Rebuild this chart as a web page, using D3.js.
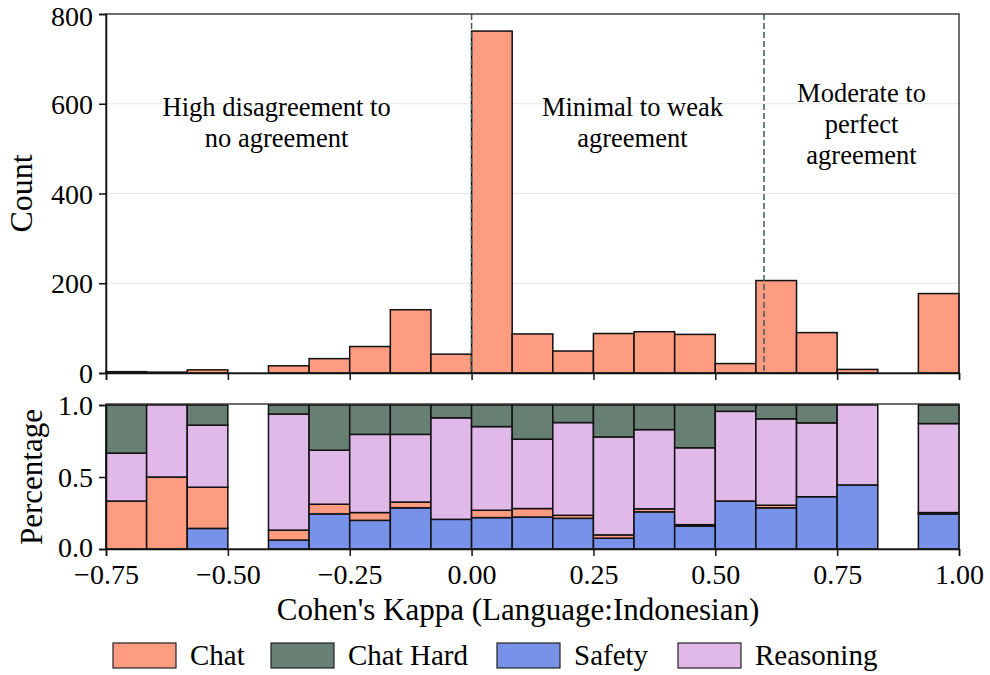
<!DOCTYPE html>
<html>
<head>
<meta charset="utf-8">
<script src="https://cdn.jsdelivr.net/npm/d3@7"></script>
<style>
  body { margin: 0; background: #fff; }
  svg text { font-family: "Liberation Serif", "Times New Roman", serif; }
</style>
</head>
<body>
<svg id="chart" width="990" height="675"></svg>
<script>
// ---- data ----
const binCount = 21;
const xMin = -0.75, xMax = 1.0;
const counts = [3, 2, 7, 0, 16, 32, 59, 141, 42, 762, 87, 49, 88, 92, 86, 21, 206, 90, 8, 0, 177];
const categories = ["Chat", "Chat Hard", "Safety", "Reasoning"];
const safetyPct    = [0, 0, 0.143, 0, 0.062, 0.244, 0.199, 0.286, 0.206, 0.218, 0.222, 0.213, 0.075, 0.258, 0.159, 0.333, 0.286, 0.363, 0.445, 0, 0.244];
const chatPct      = [0.333, 0.5, 0.286, 0, 0.069, 0.067, 0.054, 0.040, 0, 0.051, 0.059, 0.021, 0.023, 0.021, 0.010, 0, 0.018, 0, 0, 0, 0.009];
const reasoningPct = [0.333, 0.5, 0.431, 0, 0.806, 0.375, 0.543, 0.470, 0.705, 0.581, 0.482, 0.644, 0.680, 0.550, 0.534, 0.623, 0.600, 0.513, 0.555, 0, 0.618];
const chatHardPct  = [0.334, 0, 0.140, 0, 0.063, 0.314, 0.204, 0.204, 0.089, 0.150, 0.237, 0.122, 0.222, 0.171, 0.297, 0.044, 0.096, 0.124, 0, 0, 0.129];
const xTicks = [-0.75, -0.5, -0.25, 0, 0.25, 0.5, 0.75, 1.0];
const countTicks = [0, 200, 400, 600, 800];
const pctTicks = [0, 0.5, 1.0];
const thresholds = [0, 0.6];
const regionLabels = [
  {x: -0.4, lines: ["High disagreement to", "no agreement"]},
  {x: 0.33, lines: ["Minimal to weak", "agreement"]},
  {x: 0.8, lines: ["Moderate to", "perfect", "agreement"]}
];

const colors = {"Chat": "#FE9C82", "Chat Hard": "#687F74", "Safety": "#7891E9", "Reasoning": "#E1B9E9"};

// ---- layout ----
const FONT = "'Liberation Serif', 'Times New Roman', serif";
const svg = d3.select("#chart");
const L = 106, R = 959;
const topT = 14, topB = 373;
const botT = 405, botB = 549;

const x = d3.scaleLinear().domain([xMin, xMax]).range([L, R]);
const yTop = d3.scaleLinear().domain([0, 800]).range([topB, topT]);
const yBot = d3.scaleLinear().domain([0, 1]).range([botB, botT]);

const binW = (xMax - xMin) / binCount;
const bins = counts.map((c, i) => ({i, x0: xMin + i * binW, x1: xMin + (i + 1) * binW, count: c}));

// ---- top panel ----
const gTop = svg.append("g");
gTop.selectAll("line.grid").data(countTicks.filter(t => t > 0 && t < 800)).enter()
  .append("line").attr("x1", L).attr("x2", R)
  .attr("y1", d => yTop(d)).attr("y2", d => yTop(d))
  .attr("stroke", "#e6e6e6").attr("stroke-width", 1.2);

gTop.selectAll("rect.bar").data(bins.filter(b => b.count > 0)).enter()
  .append("rect")
  .attr("x", d => x(d.x0)).attr("width", d => x(d.x1) - x(d.x0))
  .attr("y", d => yTop(d.count)).attr("height", d => yTop(0) - yTop(d.count))
  .attr("fill", colors["Chat"]).attr("stroke", "#111").attr("stroke-width", 1.5);

gTop.selectAll("line.thr").data(thresholds).enter()
  .append("line").attr("x1", d => x(d)).attr("x2", d => x(d))
  .attr("y1", topT).attr("y2", topB)
  .attr("stroke", "#3f5c53").attr("stroke-width", 1.5).attr("stroke-dasharray", "6,3");

regionLabels.forEach(r => {
  const n = r.lines.length;
  const baseY = n === 2 ? 116 : 102;
  r.lines.forEach((ln, k) => {
    gTop.append("text").attr("x", x(r.x)).attr("y", baseY + k * 31)
      .attr("text-anchor", "middle").attr("font-size", 26.5).attr("font-family", FONT)
      .attr("fill", "#000").text(ln);
  });
});

gTop.append("rect").attr("x", L).attr("y", topT).attr("width", R - L).attr("height", topB - topT)
  .attr("fill", "none").attr("stroke", "#222").attr("stroke-width", 1.3);

const axLeftTop = d3.axisLeft(yTop).tickValues(countTicks).tickSize(7).tickPadding(6).tickFormat(d3.format("d"));
const gAxTop = svg.append("g").attr("transform", `translate(${L},0)`).call(axLeftTop);
const axBotTop = d3.axisBottom(x).tickValues(xTicks).tickSize(7).tickFormat("");
const gAxTopX = svg.append("g").attr("transform", `translate(0,${topB})`).call(axBotTop);

// ---- bottom panel ----
const gBot = svg.append("g");
const stackOrder = [
  {name: "Safety", vals: safetyPct},
  {name: "Chat", vals: chatPct},
  {name: "Reasoning", vals: reasoningPct},
  {name: "Chat Hard", vals: chatHardPct}
];
bins.forEach(b => {
  let acc = 0;
  stackOrder.forEach(s => {
    const v = s.vals[b.i];
    if (v > 0) {
      gBot.append("rect")
        .attr("x", x(b.x0)).attr("width", x(b.x1) - x(b.x0))
        .attr("y", yBot(acc + v)).attr("height", yBot(acc) - yBot(acc + v))
        .attr("fill", colors[s.name]).attr("stroke", "#111").attr("stroke-width", 1.5);
    }
    acc += v;
  });
});
gBot.append("rect").attr("x", L).attr("y", botT - 1).attr("width", R - L).attr("height", botB - botT + 1)
  .attr("fill", "none").attr("stroke", "#222").attr("stroke-width", 1.3);

const axLeftBot = d3.axisLeft(yBot).tickValues(pctTicks).tickSize(7).tickPadding(6).tickFormat(d3.format(".1f"));
const gAxBot = svg.append("g").attr("transform", `translate(${L},0)`).call(axLeftBot);
const fmtX = v => (v < 0 ? "\u2212" : "") + Math.abs(v).toFixed(2);
const axBotBot = d3.axisBottom(x).tickValues(xTicks).tickSize(7).tickPadding(8).tickFormat(fmtX);
const gAxBotX = svg.append("g").attr("transform", `translate(0,${botB})`).call(axBotBot);

[gAxTop, gAxTopX, gAxBot, gAxBotX].forEach(g => {
  g.attr("font-family", FONT);
  g.select(".domain").attr("stroke", "#111").attr("stroke-width", 1.5);
  g.selectAll(".tick line").attr("stroke", "#111").attr("stroke-width", 1.5);
  g.selectAll(".tick text").attr("font-size", 28).attr("fill", "#000").attr("font-family", FONT);
});
gAxTop.selectAll(".tick text").attr("dy", d => d === 800 ? "0.42em" : "0.34em");
gAxBot.selectAll(".tick text").attr("dy", d => d === 0 ? "0.26em" : "0.34em");
gAxBotX.selectAll(".tick text").attr("dy", "0.72em");

// axis titles
svg.append("text").attr("transform", `translate(32,${(topT + topB) / 2}) rotate(-90)`)
  .attr("text-anchor", "middle").attr("font-size", 32).attr("font-family", FONT).attr("fill", "#000").text("Count");
svg.append("text").attr("transform", `translate(42,${(botT + botB) / 2}) rotate(-90)`)
  .attr("text-anchor", "middle").attr("font-size", 31).attr("font-family", FONT).attr("fill", "#000").text("Percentage");
svg.append("text").attr("x", 518).attr("y", 620)
  .attr("text-anchor", "middle").attr("font-size", 31).attr("font-family", FONT).attr("fill", "#000")
  .text("Cohen's Kappa (Language:Indonesian)");

// legend
const legX = [113, 271, 497, 678];
const legend = svg.append("g");
categories.forEach((c, i) => {
  legend.append("rect").attr("x", legX[i]).attr("y", 643).attr("width", 63).attr("height", 25)
    .attr("fill", colors[c]).attr("stroke", "#222").attr("stroke-width", 1.2);
  legend.append("text").attr("x", legX[i] + 77).attr("y", 665)
    .attr("font-size", 29).attr("font-family", FONT).attr("fill", "#000").text(c);
});
</script>
</body>
</html>
